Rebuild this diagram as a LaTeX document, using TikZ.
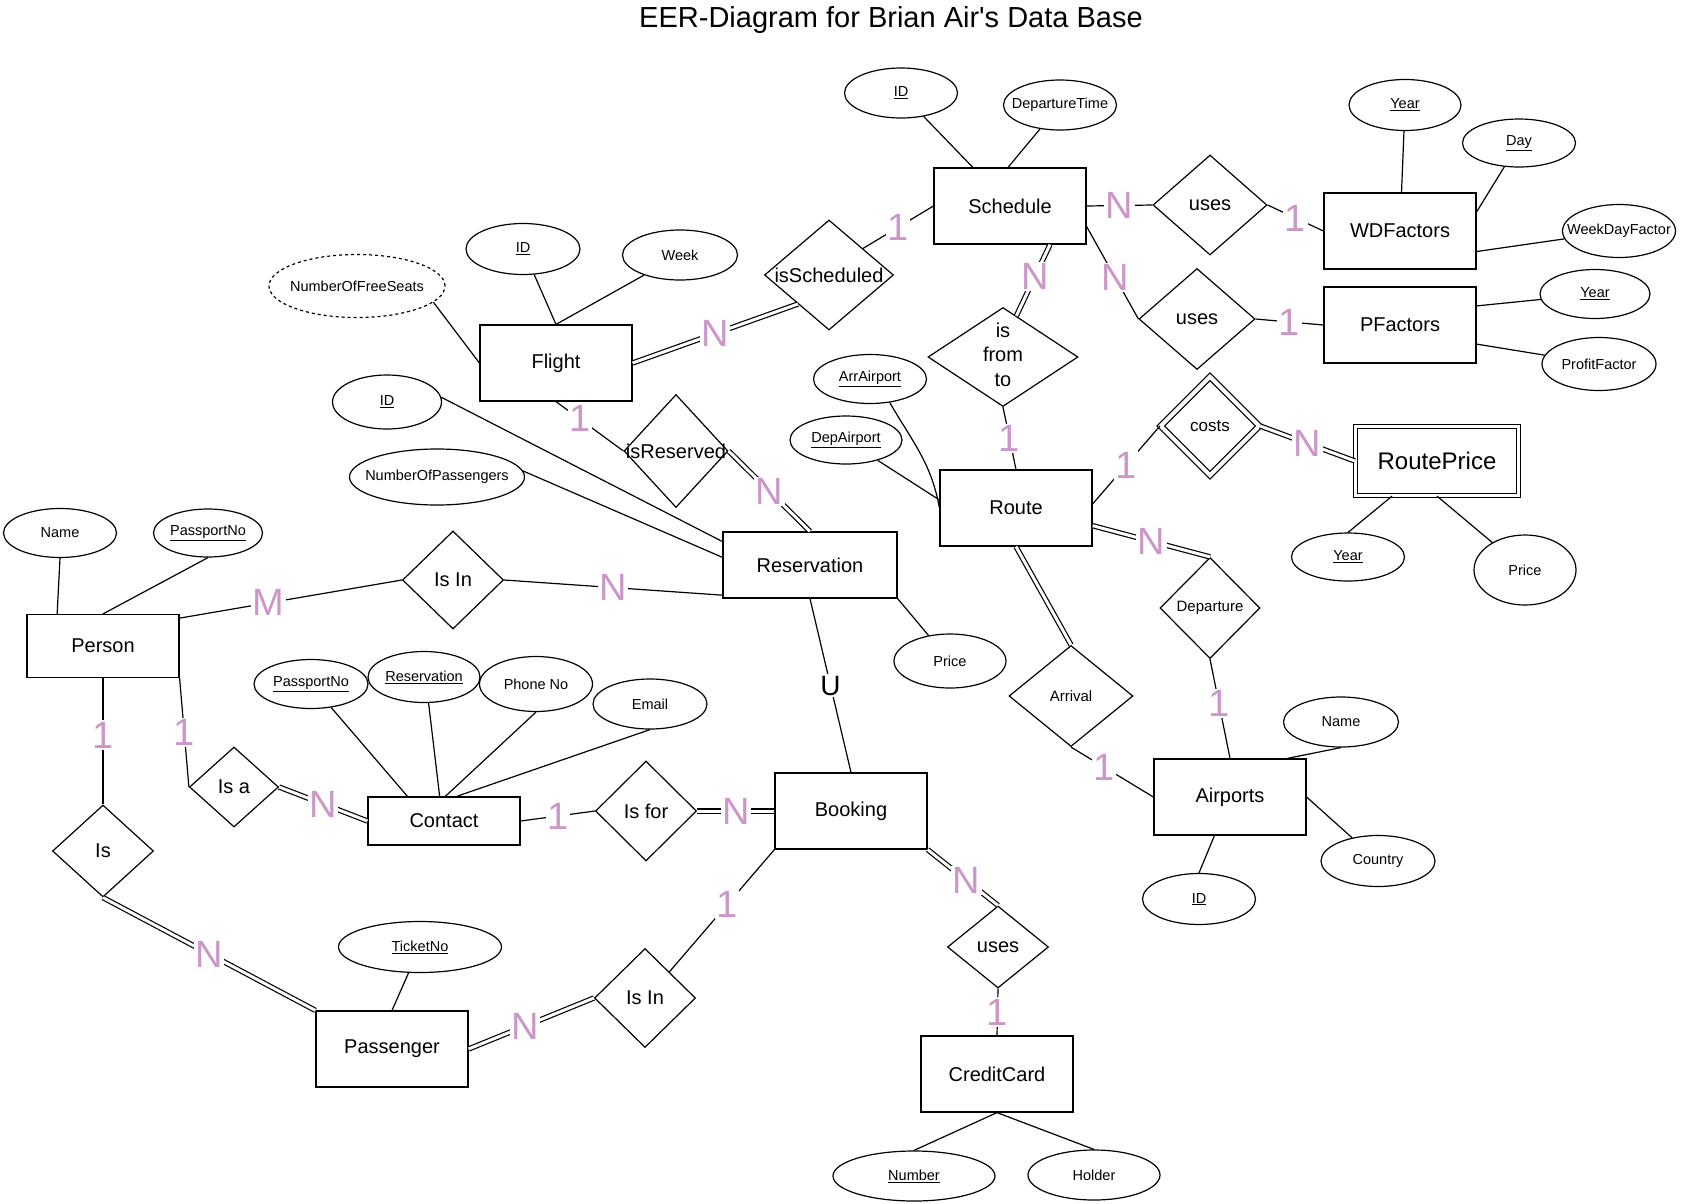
\documentclass[tikz,border=0pt]{standalone}
\usepackage{fontspec}
\setmainfont{Liberation Sans}
\usetikzlibrary{shapes.geometric}
\definecolor{cardcol}{RGB}{204,150,200}
\newcommand{\zb}[1]{\makebox[0pt]{#1}}
\begin{document}
\begin{tikzpicture}[x=1pt,y=-1pt,line width=1.2pt,
  ent/.style={draw,rectangle,minimum width=152,minimum height=76,inner sep=0pt,font=\fontsize{20}{24}\selectfont},
  attr/.style={draw,ellipse,minimum width=113,minimum height=50,inner sep=0pt,font=\fontsize{14.5}{17}\selectfont},
  rel/.style={draw,diamond,minimum width=101,minimum height=100,inner sep=0pt,font=\fontsize{20}{24}\selectfont},
  card/.style={text=cardcol,fill=white,inner sep=1.5pt,font=\fontsize{38}{38}\selectfont},
  ulabel/.style={text=black,fill=white,inner sep=1.5pt,font=\fontsize{28}{28}\selectfont},
  dbl/.style={double,double distance=3pt},
  titlestyle/.style={font=\fontsize{29}{33}\selectfont,inner sep=0pt}]
\useasboundingbox[fill=white] (0,0) rectangle (1682,1203);

\node[titlestyle] (title) at (891,20) {EER-Diagram for Brian Air\textquotesingle s Data Base};

% entities
\node[ent] (schedule) at (1010,206) {Schedule};
\node[ent] (wdf) at (1400,231) {WDFactors};
\node[ent] (pf) at (1400,325) {PFactors};
\node[ent,minimum width=163,minimum height=69,double,double distance=2.5pt,font=\fontsize{24}{28}\selectfont] (rp) at (1437,461) {RoutePrice};
\node[ent] (flight) at (556,363) {Flight};
\node[ent] (route) at (1016,508) {Route};
\node[ent,minimum width=174,minimum height=66] (res) at (810,565) {Reservation};
\node[ent,minimum height=63] (person) at (103,646) {Person};
\node[ent,minimum height=48] (contact) at (444,821) {Contact};
\node[ent] (booking) at (851,811) {Booking};
\node[ent] (airports) at (1230,797) {Airports};
\node[ent] (passenger) at (392,1049) {Passenger};
\node[ent] (cc) at (997,1074) {CreditCard};

% relationships
\node[rel,minimum width=129,minimum height=110] (issch) at (829,275) {\zb{isScheduled}};
\node[rel,minimum width=114] (usesw) at (1210,205) {\zb{uses}};
\node[rel,minimum width=116,minimum height=101] (usesp) at (1197,319) {\zb{uses}};
\node[rel,minimum width=150,minimum height=99,font=\fontsize{20}{24.7}\selectfont] (isft) at (1003,357) {\zb{\begin{tabular}{@{}c@{}}is\\from\\to\end{tabular}}};
\node[rel,double,double distance=4pt,minimum width=99,minimum height=99,font=\fontsize{17}{20}\selectfont] (costs) at (1210,426) {\zb{costs}};
\node[rel,minimum width=104,minimum height=113] (isres) at (676,451) {\zb{isReserved}};
\node[rel,minimum height=98] (isin1) at (453,580) {\zb{Is In}};
\node[rel,minimum width=100,minimum height=101,font=\fontsize{15}{18}\selectfont] (dep) at (1210,608) {\zb{Departure}};
\node[rel,minimum width=124,minimum height=101,font=\fontsize{15}{18}\selectfont] (arr) at (1071,696) {\zb{Arrival}};
\node[rel,minimum width=89,minimum height=80] (isa) at (234,787) {\zb{Is a}};
\node[rel] (isfor) at (646,811) {\zb{Is for}};
\node[rel,minimum height=92] (is) at (103,851) {\zb{Is}};
\node[rel,minimum height=82] (uses3) at (998,947) {\zb{uses}};
\node[rel,minimum height=99] (isin2) at (645,998) {\zb{Is In}};

% attributes
\node[attr] (schid) at (901,93) {\zb{\underline{ID}}};
\node[attr] (deptime) at (1060,105) {\zb{DepartureTime}};
\node[attr,minimum width=112,minimum height=51] (wyear) at (1405,105) {\zb{\underline{Year}}};
\node[attr,minimum height=48] (wday) at (1519,143) {\zb{\underline{Day}}};
\node[attr,minimum height=53] (wdfac) at (1619,231) {\zb{WeekDayFactor}};
\node[attr,minimum width=110,minimum height=49] (pyear) at (1595,294) {\zb{\underline{Year}}};
\node[attr,minimum width=114,minimum height=53] (pfac) at (1599,364) {\zb{ProfitFactor}};
\node[attr,minimum width=114,minimum height=51] (fid) at (523,249) {\zb{\underline{ID}}};
\node[attr,minimum width=115] (week) at (680,255) {\zb{Week}};
\node[attr,dashed,dash pattern=on 3pt off 3pt,minimum width=176,minimum height=63] (nofs) at (357,286) {\zb{NumberOfFreeSeats}};
\node[attr,minimum width=109,minimum height=54] (rid) at (387,402) {\zb{\underline{ID}}};
\node[attr,minimum width=175,minimum height=56] (nop) at (437,477) {\zb{NumberOfPassengers}};
\node[attr,minimum height=49] (arra) at (870,379) {\zb{\underline{ArrAirport}}};
\node[attr,minimum width=112,minimum height=48] (depa) at (846,440) {\zb{\underline{DepAirport}}};
\node[attr,minimum height=49] (pname) at (60,533) {\zb{Name}};
\node[attr,minimum width=109,minimum height=48] (ppass) at (208,533) {\zb{\underline{PassportNo}}};
\node[attr,minimum width=114,minimum height=49] (cpass) at (311,684) {\zb{\underline{PassportNo}}};
\node[attr,minimum width=112,minimum height=51] (cres) at (424,677) {\zb{\underline{Reservation}}};
\node[attr,minimum height=55] (cphone) at (536,684) {\zb{Phone No}};
\node[attr,minimum width=114] (cemail) at (650,704) {\zb{Email}};
\node[attr,minimum width=112,minimum height=54] (rprice) at (950,661) {\zb{Price}};
\node[attr,minimum height=48] (rpyear) at (1348,557) {\zb{\underline{Year}}};
\node[attr,minimum width=102,minimum height=70] (rpprice) at (1525,570) {\zb{Price}};
\node[attr,minimum width=115] (aname) at (1341,722) {\zb{Name}};
\node[attr,minimum width=114,minimum height=51] (country) at (1378,861) {\zb{Country}};
\node[attr,minimum height=51] (aid) at (1199,899) {\zb{\underline{ID}}};
\node[attr,minimum width=163,minimum height=51] (ticket) at (420,947) {\zb{\underline{TicketNo}}};
\node[attr,minimum width=162] (number) at (914,1176) {\zb{\underline{Number}}};
\node[attr,minimum width=132] (holder) at (1094,1175) {\zb{Holder}};

% connectors: Schedule area
\draw (schid) -- (schedule);
\draw (deptime) -- (schedule.93);
\draw (schedule.east) -- node[card]{N} (usesw.west);
\draw (usesw.east) -- node[card]{1} (wdf.west);
\draw (schedule.-15) -- node[card,pos=0.55]{N} (usesp.west);
\draw (usesp.east) -- node[card]{1} (pf.west);
\draw (wdf) -- (wyear);
\draw (wdf.14) -- (wday);
\draw (wdf.-15) -- (wdfac);
\draw (pf.14) -- (pyear);
\draw (pf.-14) -- (pfac);
\draw[dbl] (schedule.-44) -- node[card,pos=0.45]{N} (isft.72);
\draw (isft.south) -- node[card]{1} (route.north);

% Flight area
\draw (fid) -- (flight.north);
\draw (week) -- (flight.north);
\draw (nofs.-12) -- (flight.west);
\draw[dbl] (flight.east) -- node[card]{N} (issch.223);
\draw (issch.38) -- node[card]{1} (schedule.west);
\draw (flight.south) -- node[card,pos=0.35]{1} (isres.west);
\draw[dbl] (isres.east) -- node[card]{N} (res.north);

% Reservation
\draw (rid.5) -- (res.165);
\draw (nop.4) -- (res.175);
\draw (isin1.east) -- node[card]{N} (res.199);
\draw (person.20) -- node[card,pos=0.4]{M} (isin1.west);
\draw (res.south east) -- (rprice);
\draw (res.south) -- node[ulabel]{U} (booking.north);

% Route
\draw (arra.-50) to[out=-60,in=100] (route.west);
\draw (depa) -- (route.174);
\draw (route.3) -- node[card]{1} (costs.west);
\draw[dbl] (costs.east) -- node[card]{N} (rp.west);
\draw[dbl] (route.-13) -- node[card]{N} (dep.north);
\draw[dbl] (route.south) -- (arr.north);
\draw (arr.south) -- node[card,pos=0.4]{1} (airports.west);
\draw (dep.south) -- node[card,pos=0.45]{1} (airports.north);
\draw (airports.34) -- (aname.south);
\draw (airports.east) -- (country);
\draw (airports.-112) -- (aid.north);
\draw (rp.-142) -- (rpyear.north);
\draw (rp.south) -- (rpprice);

% Person
\draw (pname.south) -- (person.145);
\draw (ppass.south) -- (person.north);
\draw (person.south) -- node[card,pos=0.45]{1} (is.north);
\draw (person.south east) -- node[card]{1} (isa.west);
\draw[dbl] (isa.east) -- node[card]{N} (contact.west);
\draw (cpass) -- (contact.146);
\draw (cres.-80) -- (contact.100);
\draw (cphone.south) -- (contact.87);
\draw (cemail.south) -- (contact.63);
\draw (contact.east) -- node[card]{1} (isfor.west);
\draw[dbl] (isfor.east) -- node[card]{N} (booking.west);

% Passenger / Booking
\draw[dbl] (is.south) -- node[card]{N} (passenger.north west);
\draw (ticket) -- (passenger.north);
\draw[dbl] (passenger.east) -- node[card,pos=0.45]{N} (isin2.west);
\draw (isin2.47) -- node[card,pos=0.55]{1} (booking.south west);
\draw[dbl] (booking.south east) -- node[card,pos=0.55]{N} (uses3.north);
\draw (uses3.south) -- node[card]{1} (cc.north);
\draw (cc.south) -- (number.north);
\draw (cc.south) -- (holder.north);
\end{tikzpicture}
\end{document}
